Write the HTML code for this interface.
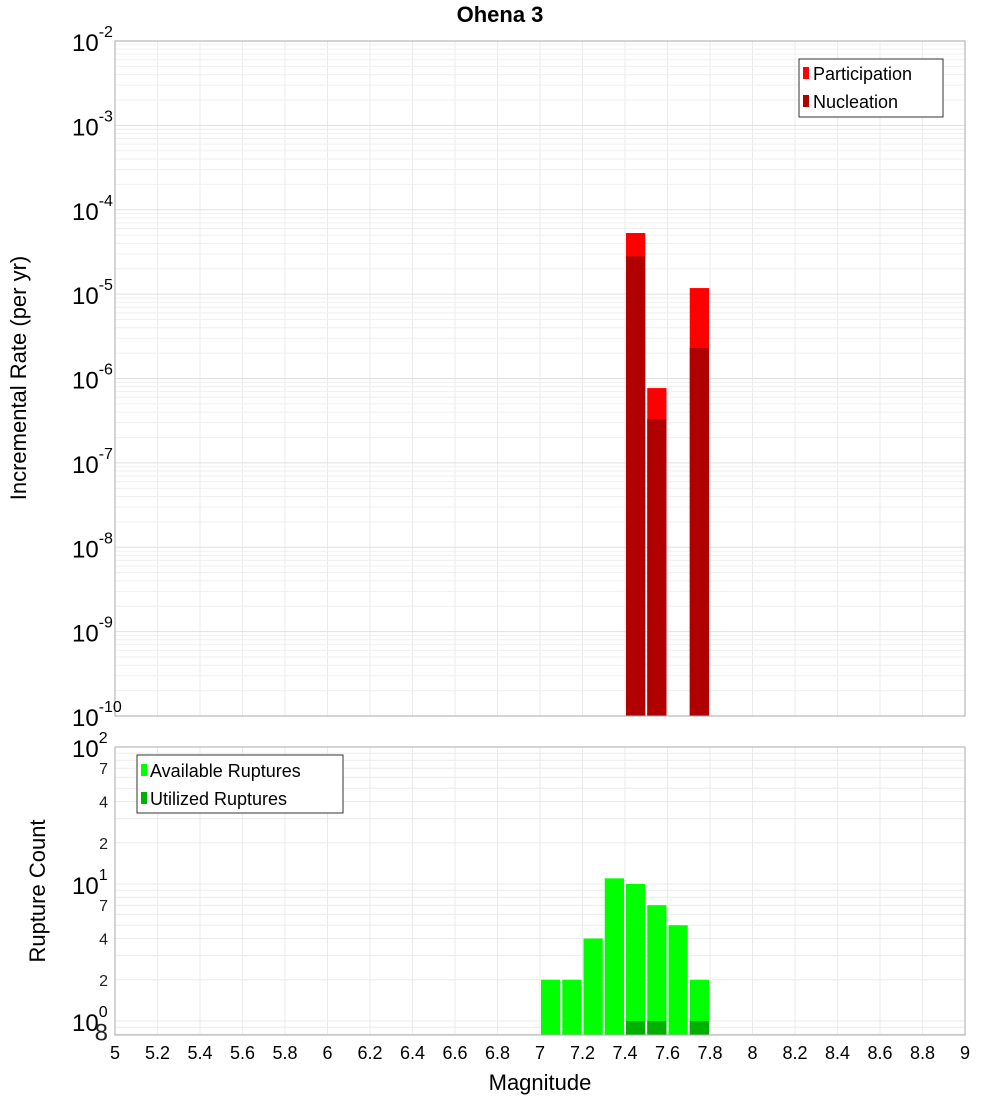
<!DOCTYPE html>
<html><head><meta charset="utf-8"><style>
body{margin:0;background:#fff;}
svg{display:block;font-family:"Liberation Sans","DejaVu Sans",sans-serif;}
</style></head><body>
<svg id="chart" width="1000" height="1100" xmlns="http://www.w3.org/2000/svg"></svg>
<script>
const magBins=[7.0,7.1,7.2,7.3,7.4,7.5,7.6,7.7];
const rateMags=[7.4,7.5,7.7];
const participation=[5.3e-5,7.7e-7,1.18e-5];
const nucleation=[2.8e-5,3.3e-7,2.3e-6];
const available=[2,2,4,11,10,7,5,2];
const utilizedMags=[7.4,7.5,7.7];
const utilized=[1,1,1];
const xTicks=["5","5.2","5.4","5.6","5.8","6","6.2","6.4","6.6","6.8","7","7.2","7.4","7.6","7.8","8","8.2","8.4","8.6","8.8","9"];

const svg=document.getElementById('chart');
const NS="http://www.w3.org/2000/svg";
function el(t,a,p){const e=document.createElementNS(NS,t);for(const k in a)e.setAttribute(k,a[k]);(p||svg).appendChild(e);return e;}
const X0=115,X1=965;
const xs=m=>X0+(m-5)/4*(X1-X0);
const T0=41,T1=716;
const yTop=v=>T0+(-2-Math.log10(v))/8*(T1-T0);
const B0=747,B1=1035,DEC=137;
const yBot=v=>B0+(2-Math.log10(v))*DEC;

// backgrounds
const g1=el('g',{});


const g2=el('g',{});



// grids
for(let i=0;i<xTicks.length;i++){const x=xs(parseFloat(xTicks[i]));
 el('line',{x1:x,x2:x,y1:T0,y2:T1,stroke:'#ebebeb'},g1);
 el('line',{x1:x,x2:x,y1:B0,y2:B1,stroke:'#ebebeb'},g2);}
for(let d=-10;d<-2;d++)for(let k=1;k<10;k++){const y=yTop(k*Math.pow(10,d));
 el('line',{x1:X0,x2:X1,y1:y,y2:y,stroke:k==1?'#e0e0e0':'#efefef'},g1);}
for(let d=-1;d<2;d++)for(let k=1;k<10;k++){const v=k*Math.pow(10,d);const y=yBot(v);if(y>B1||y<B0)continue;
 el('line',{x1:X0,x2:X1,y1:y,y2:y,stroke:'#ebebeb'},g2);}

// rate bars
for(let i=0;i<rateMags.length;i++){const x=xs(rateMags[i])+1,w=xs(rateMags[i]+0.1)-xs(rateMags[i])-2;
 const p=el('rect',{x:x,y:yTop(participation[i]),width:w,height:T1-yTop(participation[i]),fill:'#ff0000'},g1);
 
 
 const n=el('rect',{x:x,y:yTop(nucleation[i]),width:w,height:T1-yTop(nucleation[i]),fill:'#b00000'},g1);
 
 }
// count bars
for(let i=0;i<magBins.length;i++){const x=xs(magBins[i])+1,w=xs(magBins[i]+0.1)-xs(magBins[i])-2;
 const r=el('rect',{x:x,y:yBot(available[i]),width:w,height:B1-yBot(available[i]),fill:'#00ff00'},g2);
 
 }
for(let i=0;i<utilizedMags.length;i++){const x=xs(utilizedMags[i])+1,w=xs(utilizedMags[i]+0.1)-xs(utilizedMags[i])-2;
 const r=el('rect',{x:x,y:yBot(utilized[i]),width:w,height:B1-yBot(utilized[i]),fill:'#00b000'},g2);
 
 }

el('rect',{x:X0,y:T0,width:X1-X0,height:T1-T0,fill:'none',stroke:'#aaa'},g1);
el('rect',{x:X0,y:B0,width:X1-X0,height:B1-B0,fill:'none',stroke:'#aaa'},g2);

// top y labels
for(let d=-10;d<=-2;d++){const y=yTop(Math.pow(10,d));
 const t=el('text',{x:72,y:y+10,'font-size':24,fill:'#000'});
 
 
 t.textContent='10';const s=el('tspan',{dy:-14,'font-size':16},t);s.textContent=String(d);}
// bottom y labels
[[100,'2'],[10,'1'],[1,'0']].forEach(([v,e])=>{const y=yBot(v);
 const t=el('text',{x:72,y:y+10,'font-size':24,fill:'#000'});
 
 
 t.textContent='10';const s=el('tspan',{dy:-14,'font-size':16},t);s.textContent=e;});
[[70,'7'],[40,'4'],[20,'2'],[7,'7'],[4,'4'],[2,'2'],[0.8,'8']].forEach(([v,l])=>{const y=yBot(v);
 const t=el('text',{x:108,y:y+6,'font-size':v==0.8?24:16,'text-anchor':'end',fill:'#222'});
 
 
 t.textContent=l;});
// x labels
xTicks.forEach(l=>{const t=el('text',{x:xs(parseFloat(l)),y:1059,'font-size':18,'text-anchor':'middle',fill:'#000'});
 
 
 t.textContent=l;});

function txt(x,y,s,sz,name,extra){const t=el('text',Object.assign({x:x,y:y,'font-size':sz,fill:'#000'},extra||{}));
 
 
 t.textContent=s;return t;}
txt(500,22,'Ohena 3',22,'chart-title',{'text-anchor':'middle','font-weight':'bold'});
txt(540,1090,'Magnitude',22,'x-axis-title',{'text-anchor':'middle'});
txt(26,378,'Incremental Rate (per yr)',22,'y-axis-title-top',{'text-anchor':'middle',transform:'rotate(-90 26 378)'});
txt(45,891,'Rupture Count',22,'y-axis-title-bottom',{'text-anchor':'middle',transform:'rotate(-90 45 891)'});

// legends
const l1=el('g',{});


el('rect',{x:799,y:59,width:144,height:58,fill:'#fff',stroke:'#333'},l1);
el('rect',{x:803,y:67,width:6,height:12,fill:'#ff0000'},l1);
el('rect',{x:803,y:95,width:6,height:12,fill:'#b00000'},l1);
txt(813,80,'Participation',18,'legend-entry-participation');
txt(813,108,'Nucleation',18,'legend-entry-nucleation');
const l2=el('g',{});


el('rect',{x:137,y:755,width:206,height:58,fill:'#fff',stroke:'#333'},l2);
el('rect',{x:141,y:764,width:6,height:12,fill:'#00ff00'},l2);
el('rect',{x:141,y:792,width:6,height:12,fill:'#00b000'},l2);
txt(150,777,'Available Ruptures',18,'legend-entry-available');
txt(150,805,'Utilized Ruptures',18,'legend-entry-utilized');
</script>
</body></html>
